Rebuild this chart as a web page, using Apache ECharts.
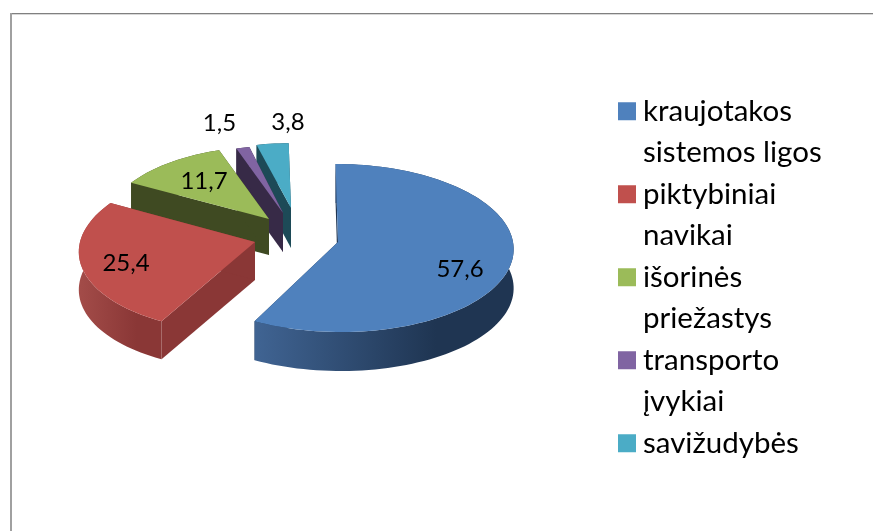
<!DOCTYPE html>
<html>
<head>
<meta charset="utf-8">
<style>
    html, body { margin: 0; padding: 0; background: #fff; }
    #chart { width: 873px; height: 531px; }
</style>
<script src="https://cdn.jsdelivr.net/npm/echarts@6/dist/echarts.min.js"></script>
</head>
<body>
<div id="chart"></div>
<script>
    // data
    const categories = ['kraujotakos\nsistemos ligos', 'piktybiniai\nnavikai', 'išorinės\npriežastys', 'transporto\nįvykiai', 'savižudybės']
    const values = [57.6, 25.4, 11.7, 1.5, 3.8]

    // colours: top face, side wall, outer wall gradient
    const topColors = ['#4f81bd', '#c0504d', '#9bbb59', '#8064a2', '#4bacc6']
    const sideColors = ['#1f3552', '#8a3736', '#3f4a22', '#372a47', '#1d4a57']
    const arcColors = [['#406493', '#1f3552'], ['#a34c49', '#8a3736'], ['#3f4a22', '#3f4a22'], ['#372a47', '#372a47'], ['#1d4a57', '#1d4a57']]

    // exploded layout of the slices (apex of each slice, scale for the far ones, wall height)
    const apexX = [338, 255, 269, 283, 291]
    const apexY = [242, 242, 219, 213, 208]
    const sliceScale = [1, 1, 0.93, 0.87, 0.83]
    const sliceShear = [2.6, -8, 0, 0, 3]
    const wallHeight = [39, 38, 36, 39, 40]
    const labelX = [460, 126, 204, 219.5, 288]
    const labelY = [269, 263, 181, 123, 122]

    const rx = 175
    const ry = 83.6
    const persp = 0.0714  // near side of the disc is drawn bigger
    const total = values.reduce((a, b) => a + b, 0)

    function point(i, deg, dy) {
        const t = deg * Math.PI / 180
        const u = Math.sin(t)
        const v = -Math.cos(t)
        const s = sliceScale[i] / (1 - persp * v)
        return [apexX[i] + (rx * u + sliceShear[i] * v) * s, apexY[i] + ry * v * s + (dy || 0)]
    }

    function arcPoints(i, from, to, dy) {
        const pts = []
        const n = Math.max(2, Math.ceil((to - from) / 2))
        for (let k = 0; k <= n; k++) {
            pts.push(point(i, from + (to - from) * k / n, dy))
        }
        return pts
    }

    function renderSlice(i) {
        return function (params, api) {
            const start = values.slice(0, i).reduce((a, b) => a + b, 0) / total * 360
            const end = start + api.value(0) / total * 360
            const h = wallHeight[i]
            const apex = [apexX[i], apexY[i]]
            const apexLow = [apexX[i], apexY[i] + h]
            const arcTop = arcPoints(i, start, end, 0)
            const arcLow = arcPoints(i, start, end, h)
            const wall = (a, b) => ({
                type: 'polygon',
                shape: {points: [apex, a, b, apexLow]},
                style: {fill: sideColors[i]}
            })
            return {
                type: 'group',
                children: [
                    wall(point(i, start, 0), point(i, start, h)),
                    wall(point(i, end, 0), point(i, end, h)),
                    {
                        type: 'polygon',
                        shape: {points: arcTop.concat(arcLow.slice().reverse())},
                        style: {
                            fill: new echarts.graphic.LinearGradient(0, 0, 1, 0, [
                                {offset: 0, color: arcColors[i][0]},
                                {offset: 0.7, color: arcColors[i][1]},
                                {offset: 1, color: arcColors[i][1]}
                            ])
                        }
                    },
                    {
                        type: 'polygon',
                        shape: {points: [apex].concat(arcTop)},
                        style: {fill: topColors[i]}
                    },
                    {
                        type: 'text',
                        z2: 100,
                        style: {
                            x: labelX[i],
                            y: labelY[i],
                            text: String(values[i]).replace('.', ','),
                            font: '24px Lato',
                            fill: '#000',
                            align: 'center',
                            verticalAlign: 'middle'
                        }
                    }
                ]
            }
        }
    }

    const chart = echarts.init(document.getElementById('chart'))
    chart.setOption({
        animation: false,
        backgroundColor: '#fff',
        legend: {
            orient: 'vertical',
            left: 613,
            top: 44,
            padding: [5, 5, 5, 5],
            itemWidth: 18,
            itemHeight: 18,
            itemGap: -41.5,
            icon: 'rect',
            selectedMode: false,
            // blank lines around the name keep the swatch level with its first line
            formatter: name => '\n' + name + (name.indexOf('\n') < 0 ? '\n' : ''),
            textStyle: {fontFamily: 'Lato', fontSize: 29.5, lineHeight: 41.5, color: '#000', padding: [0, 0, 0, 2]},
            data: categories
        },
        graphic: [
            {type: 'rect', silent: true, shape: {x: 10, y: 13, width: 863, height: 1}, style: {fill: '#808080'}},
            {type: 'rect', silent: true, shape: {x: 10, y: 14, width: 863, height: 1}, style: {fill: '#d8d8d8'}},
            {type: 'rect', silent: true, shape: {x: 10, y: 13, width: 2, height: 518}, style: {fill: '#a0a0a0'}}
        ],
        series: categories.map((name, i) => ({
            type: 'custom',
            name: name,
            coordinateSystem: 'none',
            z: 10 - i,
            silent: true,
            itemStyle: {color: topColors[i]},
            renderItem: renderSlice(i),
            data: [[values[i]]]
        }))
    })
</script>
</body>
</html>
